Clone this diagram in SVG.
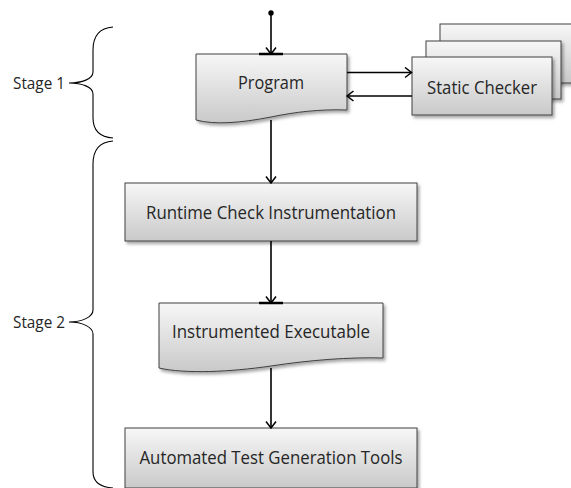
<svg xmlns="http://www.w3.org/2000/svg" width="571" height="488" viewBox="0 0 571 488">
<style>
.box{fill:url(#g);stroke:#404040;stroke-width:1;filter:url(#sh)}
.t{font-family:"Open Sans","Liberation Sans",sans-serif;font-size:17.5px;fill:#262626;text-anchor:middle}
.lb{font-family:"Open Sans","Liberation Sans",sans-serif;font-size:17px;fill:#262626}
.ln{stroke:#000;stroke-width:1.6;fill:none}
.tick{stroke:#000;stroke-width:2.5}
.br{stroke:#000;stroke-width:1.1;fill:none}
</style>
<defs>
<linearGradient id="g" x1="0" y1="0" x2="0" y2="1">
<stop offset="0" stop-color="#f7f7f7"/>
<stop offset="1" stop-color="#c9c9c9"/>
</linearGradient>
<filter id="sh" x="-10%" y="-10%" width="130%" height="140%">
<feDropShadow dx="2" dy="2.5" stdDeviation="1.5" flood-color="#000" flood-opacity="0.35"/>
</filter>
<marker id="ah" markerUnits="userSpaceOnUse" markerWidth="14" markerHeight="14" refX="8" refY="6" orient="auto">
<path d="M1.5,1 L8,6 L1.5,11" fill="none" stroke="#000" stroke-width="1.5"/>
</marker>
</defs>

<g id="brace1">
<path class="br" d="M113,27 C100,28 93,36 93,50 L93,72 C93,79 82,83 69,83 C82,83 93,87 93,94 L93,118 C93,131 100,137 113,138"/>
<text class="lb" x="13" y="89" textLength="52" lengthAdjust="spacingAndGlyphs">Stage 1</text>
</g>
<g id="brace2">
<path class="br" d="M113,141 C100,142 93,150 93,164 L93,310 C93,317 82,322 69,322 C82,322 93,327 93,334 L93,472 C93,482 100,487 113,488"/>
<text class="lb" x="13" y="328" textLength="52" lengthAdjust="spacingAndGlyphs">Stage 2</text>
</g>

<g id="static-checker">
<rect class="box" x="440" y="24" width="140" height="59"/>
<rect class="box" x="426" y="41" width="135" height="58"/>
<rect class="box" x="412" y="57" width="140" height="58"/>
<text class="t" x="482" y="94" textLength="110" lengthAdjust="spacingAndGlyphs">Static Checker</text>
</g>

<g id="program">
<path class="box" d="M196,54 H347 V110 C320,109 295,112 271,117 C240,123 215,125 196,120 Z"/>
<text class="t" x="271" y="89" textLength="66" lengthAdjust="spacingAndGlyphs">Program</text>
</g>

<g id="runtime">
<rect class="box" x="125" y="183" width="292" height="58"/>
<text class="t" x="271" y="219" textLength="250" lengthAdjust="spacingAndGlyphs">Runtime Check Instrumentation</text>
</g>

<g id="instrumented">
<path class="box" d="M159,303 H383 V358 C350,357 310,360 271,366 C230,372 185,374 159,368 Z"/>
<text class="t" x="271" y="338" textLength="198" lengthAdjust="spacingAndGlyphs">Instrumented Executable</text>
</g>

<g id="automated">
<rect class="box" x="125" y="428" width="292" height="60"/>
<text class="t" x="271" y="464" textLength="263" lengthAdjust="spacingAndGlyphs">Automated Test Generation Tools</text>
</g>

<g id="connectors">
<circle cx="271" cy="13" r="2.7" fill="#000"/>
<line class="ln" x1="271" y1="13" x2="271" y2="54" marker-end="url(#ah)"/>
<line class="tick" x1="259" y1="54" x2="283" y2="54"/>
<line class="ln" x1="347" y1="72.5" x2="411.5" y2="72.5" marker-end="url(#ah)"/>
<line class="ln" x1="412" y1="96" x2="347" y2="96" marker-end="url(#ah)"/>
<line class="ln" x1="271" y1="120" x2="271" y2="183" marker-end="url(#ah)"/>
<line class="ln" x1="271" y1="241" x2="271" y2="303" marker-end="url(#ah)"/>
<line class="tick" x1="259" y1="303" x2="283" y2="303"/>
<line class="ln" x1="271" y1="368" x2="271" y2="428" marker-end="url(#ah)"/>
</g>
</svg>
